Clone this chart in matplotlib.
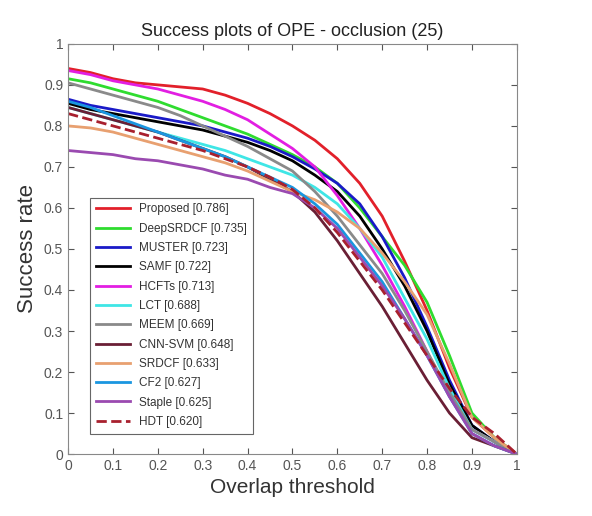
import numpy as np
import matplotlib
matplotlib.use("Agg")
import matplotlib.pyplot as plt

plt.rcParams['font.family'] = ['Liberation Sans', 'DejaVu Sans']

# overlap thresholds (0 to 1, step 0.05)
thresholds = np.linspace(0, 1, 21)

names = ["Proposed", "DeepSRDCF", "MUSTER", "SAMF", "HCFTs", "LCT",
         "MEEM", "CNN-SVM", "SRDCF", "CF2", "Staple", "HDT"]
scores = [0.786, 0.735, 0.723, 0.722, 0.713, 0.688,
          0.669, 0.648, 0.633, 0.627, 0.625, 0.620]

# success rate curves
proposed = [0.94, 0.93, 0.915, 0.905, 0.90, 0.895, 0.89, 0.875, 0.855, 0.83, 0.80,
            0.765, 0.72, 0.66, 0.58, 0.47, 0.35, 0.21, 0.09, 0.04, 0.0]
deepsrdcf = [0.915, 0.905, 0.89, 0.875, 0.86, 0.84, 0.82, 0.80, 0.78, 0.755, 0.73,
             0.70, 0.66, 0.60, 0.53, 0.46, 0.37, 0.24, 0.10, 0.04, 0.0]
muster = [0.865, 0.85, 0.84, 0.83, 0.82, 0.81, 0.80, 0.785, 0.77, 0.75, 0.725,
          0.695, 0.66, 0.61, 0.53, 0.43, 0.31, 0.18, 0.07, 0.03, 0.0]
samf = [0.855, 0.84, 0.83, 0.82, 0.81, 0.80, 0.79, 0.775, 0.76, 0.74, 0.715,
        0.68, 0.64, 0.58, 0.50, 0.41, 0.30, 0.17, 0.07, 0.03, 0.0]
hcfts = [0.935, 0.925, 0.91, 0.90, 0.89, 0.875, 0.86, 0.84, 0.815, 0.78, 0.745,
         0.70, 0.63, 0.55, 0.46, 0.36, 0.25, 0.14, 0.06, 0.03, 0.0]
lct = [0.845, 0.83, 0.815, 0.80, 0.785, 0.77, 0.755, 0.74, 0.72, 0.70, 0.68,
       0.65, 0.61, 0.55, 0.48, 0.38, 0.28, 0.16, 0.06, 0.03, 0.0]
meem = [0.905, 0.89, 0.875, 0.86, 0.845, 0.825, 0.80, 0.775, 0.75, 0.72, 0.69,
        0.64, 0.58, 0.51, 0.44, 0.35, 0.25, 0.15, 0.06, 0.03, 0.0]
cnn_svm = [0.845, 0.83, 0.815, 0.80, 0.785, 0.765, 0.745, 0.725, 0.70, 0.67, 0.64,
           0.59, 0.52, 0.44, 0.36, 0.27, 0.18, 0.10, 0.04, 0.02, 0.0]
srdcf = [0.80, 0.795, 0.785, 0.77, 0.755, 0.74, 0.725, 0.71, 0.69, 0.665, 0.64,
         0.62, 0.59, 0.55, 0.49, 0.42, 0.34, 0.22, 0.09, 0.04, 0.0]
cf2 = [0.86, 0.845, 0.825, 0.805, 0.785, 0.765, 0.745, 0.725, 0.70, 0.675, 0.65,
       0.61, 0.56, 0.49, 0.42, 0.33, 0.24, 0.14, 0.05, 0.02, 0.0]
staple = [0.74, 0.735, 0.73, 0.72, 0.715, 0.705, 0.695, 0.68, 0.67, 0.65, 0.635,
          0.60, 0.55, 0.48, 0.41, 0.33, 0.24, 0.14, 0.05, 0.02, 0.0]
hdt = [0.83, 0.815, 0.80, 0.785, 0.77, 0.755, 0.74, 0.72, 0.70, 0.675, 0.645,
       0.60, 0.54, 0.47, 0.40, 0.32, 0.24, 0.16, 0.09, 0.05, 0.0]

curves = [proposed, deepsrdcf, muster, samf, hcfts, lct,
          meem, cnn_svm, srdcf, cf2, staple, hdt]
colors = ["#e2202a", "#2fdc2f", "#1a1ac8", "#000000", "#e21ee2", "#3fe6e6",
          "#8a8a8a", "#6a1f35", "#e8a070", "#1a96e0", "#9a4ab0", "#a8202e"]
styles = ["-"] * 11 + ["--"]

fig = plt.figure(figsize=(5.92, 5.16), dpi=100)
ax = fig.add_axes([0.115, 0.12, 0.758, 0.795])

for i in range(len(names)):
    ax.plot(thresholds, curves[i], color=colors[i], linestyle=styles[i], linewidth=2,
            label="%s [%.3f]" % (names[i], scores[i]))

ax.set_xlim(0, 1)
ax.set_ylim(0, 1)
ax.set_xticks(np.arange(0, 1.01, 0.1))
ax.set_yticks(np.arange(0, 1.01, 0.1))
ax.set_xticklabels(["0", "0.1", "0.2", "0.3", "0.4", "0.5", "0.6", "0.7", "0.8", "0.9", "1"])
ax.set_yticklabels(["0", "0.1", "0.2", "0.3", "0.4", "0.5", "0.6", "0.7", "0.8", "0.9", "1"])
ax.tick_params(direction="in", top=True, right=True, labelsize=10, colors="#555555",
               length=4, width=0.8)
for s in ax.spines.values():
    s.set_color("#888888")
    s.set_linewidth(0.8)

ax.set_title("Success plots of OPE - occlusion (25)", fontsize=13, color="#222222")
ax.set_xlabel("Overlap threshold", fontsize=15, color="#333333")
ax.set_ylabel("Success rate", fontsize=16, color="#333333")

leg = ax.legend(loc="lower left", bbox_to_anchor=(0.035, 0.035), fontsize=8.5,
                handlelength=2.9, labelspacing=0.62, borderpad=0.5,
                fancybox=False, framealpha=1, edgecolor="#666666")
leg.get_frame().set_linewidth(0.8)
for t in leg.get_texts():
    t.set_color("#333333")

fig.savefig("out.png", dpi=100)
